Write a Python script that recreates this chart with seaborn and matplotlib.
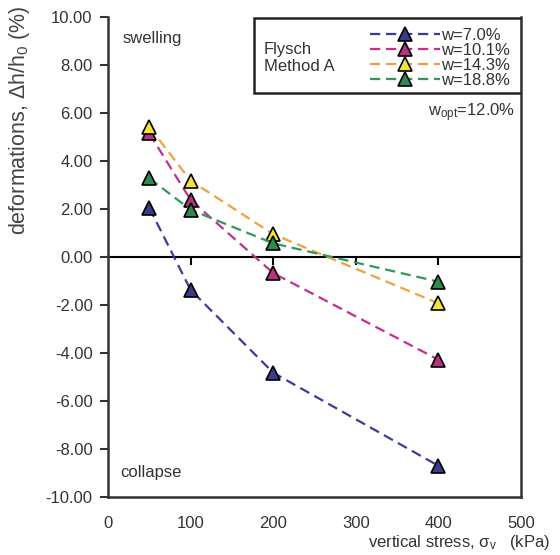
import numpy as np
import pandas as pd
import matplotlib
matplotlib.use("Agg")
import matplotlib.pyplot as plt
from matplotlib.patches import Rectangle
import seaborn as sns

# vertical stress steps (kPa)
stress = [50, 100, 200, 400]

# deformation Δh/h0 (%) for each moulding water content
def_w70 = [2.05, -1.37, -4.82, -8.70]
def_w101 = [5.15, 2.38, -0.67, -4.28]
def_w143 = [5.42, 3.18, 0.95, -1.93]
def_w188 = [3.28, 1.97, 0.57, -1.03]

series_labels = ["w=7.0%", "w=10.1%", "w=14.3%", "w=18.8%"]
line_colors = ["#3b3b9c", "#c42f8e", "#f2a23a", "#2f9a5c"]
face_colors = ["#3c3a8c", "#b5337f", "#f1e23c", "#2e8a4e"]

y_ticks = [10, 8, 6, 4, 2, 0, -2, -4, -6, -8, -10]
x_ticks = [0, 100, 200, 300, 400, 500]

df = pd.DataFrame({
    "stress": stress * 4,
    "deformation": def_w70 + def_w101 + def_w143 + def_w188,
    "series": [s for s in series_labels for _ in stress],
})

sns.set_theme(style="white")
plt.rcParams["font.family"] = ["Liberation Sans", "DejaVu Sans"]
plt.rcParams["mathtext.fontset"] = "custom"
plt.rcParams["mathtext.rm"] = "Liberation Sans"
plt.rcParams["mathtext.it"] = "Liberation Sans:italic"
text_col = "#333333"

fig = plt.figure(figsize=(5.6, 5.55), dpi=100)
ax = fig.add_axes([108 / 560, 1 - 497 / 555, 413 / 560, 480 / 555])

for lab, lc, fc in zip(series_labels, line_colors, face_colors):
    sub = df[df["series"] == lab]
    sns.lineplot(data=sub, x="stress", y="deformation", ax=ax, color=lc,
                 linewidth=1.6, linestyle=(0, (4.6, 2.6)), marker="^",
                 markersize=10, markerfacecolor=fc, markeredgecolor="black",
                 markeredgewidth=1.2, label=lab, sort=False, zorder=3)

ax.set_xlim(0, 500)
ax.set_ylim(-10, 10)
ax.set_yticks(y_ticks)
ax.set_yticklabels([f"{v:.2f}" for v in y_ticks])
ax.set_xticks(x_ticks)
ax.set_xticklabels([str(v) for v in x_ticks])
ax.tick_params(axis="y", direction="out", length=6, width=1.5, pad=5,
               labelsize=12, colors=text_col, left=True)
ax.tick_params(axis="x", length=0, pad=14, labelsize=12, colors=text_col)

for side in ["left", "bottom", "right"]:
    ax.spines[side].set_color("#333333")
    ax.spines[side].set_linewidth(1.8)
ax.spines["top"].set_visible(False)

# zero line with its own ticks
ax.axhline(0, color="black", linewidth=1.5, zorder=2)
sec = ax.secondary_xaxis(0.5)
sec.set_xticks([100, 200, 300, 400])
sec.xaxis.set_ticks_position("bottom")
sec.tick_params(direction="out", length=6, width=1.5, labelbottom=False,
                labeltop=False, colors="black")
for sp in sec.spines.values():
    sp.set_visible(False)

ax.set_ylabel(r"deformations, Δh/h$_0$ (%)", fontsize=15.5, color="#444444")
ax.yaxis.set_label_coords(-0.183, 0.785)
ax.set_xlabel(r"vertical stress, σ$_{\rm v}$   (kPa)", fontsize=12,
              color=text_col, ha="right", va="center")
ax.xaxis.set_label_coords(1.07, -0.094)

ax.text(0.035, 0.955, "swelling", transform=ax.transAxes, fontsize=12,
        color=text_col, va="center", ha="left")
ax.text(0.03, 0.05, "collapse", transform=ax.transAxes, fontsize=12,
        color=text_col, va="center", ha="left")

# legend box
box = Rectangle((0.354, 0.842), 0.646, 0.156, transform=ax.transAxes,
                fill=True, facecolor="white", edgecolor="#222222",
                linewidth=1.8, zorder=5)
ax.add_patch(box)
ax.text(0.378, 0.915, "Flysch\nMethod A", transform=ax.transAxes,
        fontsize=12, color=text_col, va="center", ha="left",
        linespacing=1.15, zorder=6)
leg = ax.legend(loc="upper right", bbox_to_anchor=(1.0, 1.0), frameon=False,
                fontsize=12, handlelength=4.2, handletextpad=0.1,
                labelspacing=0.0, borderaxespad=0.25, numpoints=1)
leg.set_zorder(7)
for t in leg.get_texts():
    t.set_color(text_col)

ax.text(0.985, 0.80, r"w$_{\rm opt}$=12.0%", transform=ax.transAxes,
        fontsize=12, color=text_col, va="center", ha="right")

fig.savefig("out.png", dpi=100)
